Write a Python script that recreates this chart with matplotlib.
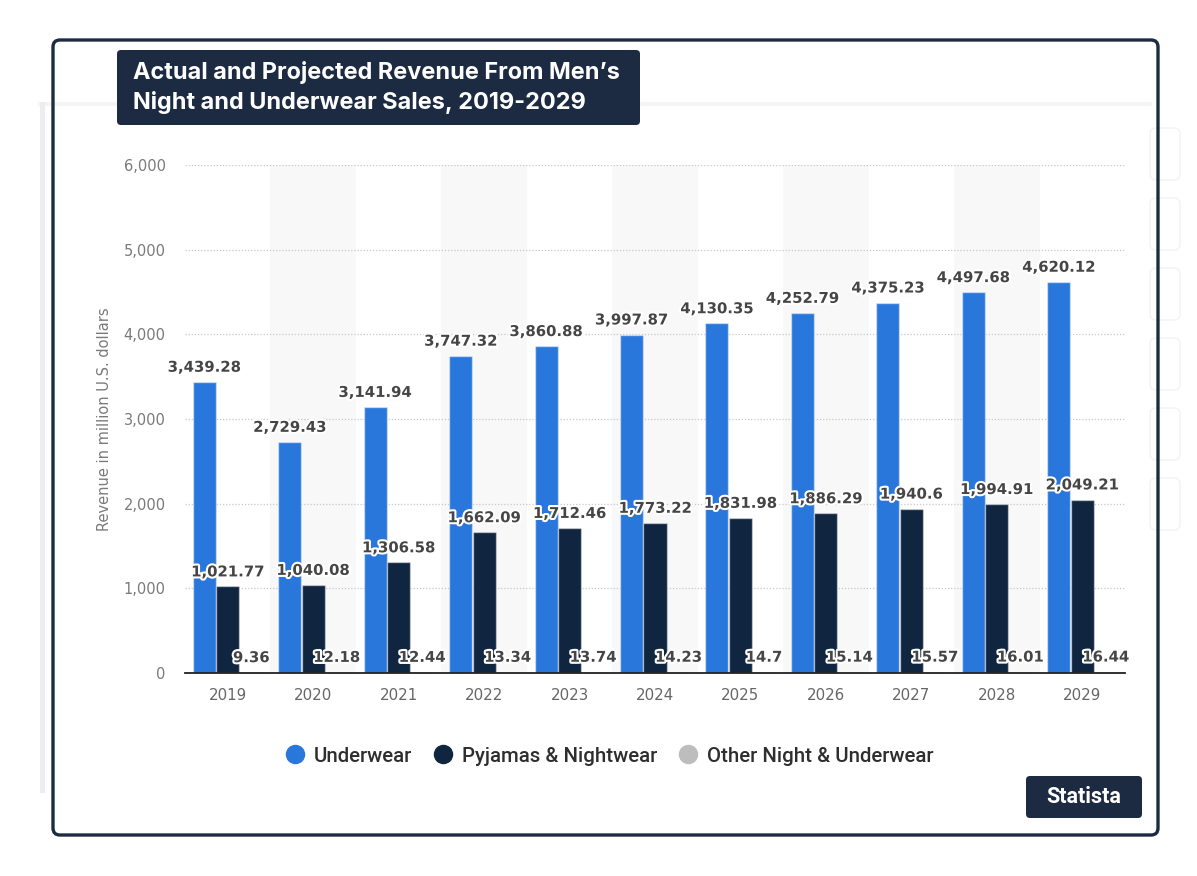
import matplotlib
matplotlib.use('Agg')
import matplotlib.pyplot as plt
import matplotlib.patheffects as pe
from matplotlib.patches import FancyBboxPatch
from matplotlib.lines import Line2D
import numpy as np

# ---------------- data ----------------
years = ['2019', '2020', '2021', '2022', '2023', '2024', '2025', '2026', '2027', '2028', '2029']
underwear = [3439.28, 2729.43, 3141.94, 3747.32, 3860.88, 3997.87, 4130.35, 4252.79, 4375.23, 4497.68, 4620.12]
pyjamas = [1021.77, 1040.08, 1306.58, 1662.09, 1712.46, 1773.22, 1831.98, 1886.29, 1940.6, 1994.91, 2049.21]
other = [9.36, 12.18, 12.44, 13.34, 13.74, 14.23, 14.7, 15.14, 15.57, 16.01, 16.44]
series_names = ['Underwear', 'Pyjamas & Nightwear', 'Other Night & Underwear']
series_colors = ['#2a77dc', '#10253f', '#bdbdbd']
y_ticks = [0, 1000, 2000, 3000, 4000, 5000, 6000]
title_lines = ['Actual and Projected Revenue From Men\u2019s', 'Night and Underwear Sales, 2019-2029']
y_label = 'Revenue in million U.S. dollars'
badge_text = 'Statista'

W, H = 1197, 876
fig = plt.figure(figsize=(W / 100, H / 100), dpi=100)
fig.patch.set_facecolor('white')

def px(x):
    return x / W

def py(y):
    return 1 - y / H

NAVY = '#1c2b42'

# faint background card: top and left edges
fig.add_artist(Line2D([40, 1150], [H - 104, H - 104], transform=None, color='#f4f4f6', linewidth=3.0, zorder=0))
fig.add_artist(Line2D([42, 42], [H - 104, H - 790], transform=None, color='#ececf1', linewidth=3.5, zorder=0))
# right side faint tabs
for top in [128, 198, 268, 338, 408, 478]:
    tab = FancyBboxPatch((1150, H - top - 52), 30, 52, boxstyle='round,pad=0,rounding_size=6',
                         transform=None, facecolor='white', edgecolor='#f3f3f6', linewidth=1.0, zorder=0.5)
    fig.add_artist(tab)

# outer frame
frame = FancyBboxPatch((53, H - 835), 1105, 795, boxstyle='round,pad=0,rounding_size=7',
                       transform=None, facecolor='none', edgecolor=NAVY, linewidth=2.4, zorder=10)
fig.add_artist(frame)

# ---------------- axes ----------------
ax = fig.add_axes([px(185), 203 / H, 940 / W, 508 / H])
n = len(years)
x = np.arange(n)
ax.set_xlim(-0.5, n - 0.5)
ax.set_ylim(0, 6000)

for i in range(n):
    if i % 2 == 1:
        ax.axvspan(i - 0.5, i + 0.5, color='#f8f8f9', zorder=0, lw=0)

ax.set_yticks(y_ticks)
ax.set_yticklabels([f'{t:,}' for t in y_ticks])
ax.grid(axis='y', linestyle=(0, (1, 1.5)), color='#c8c8c8', linewidth=0.9, zorder=0.5)
ax.set_axisbelow(True)
for s in ['top', 'right', 'left']:
    ax.spines[s].set_visible(False)
ax.spines['bottom'].set_color('#222222')
ax.spines['bottom'].set_linewidth(1.3)
ax.spines['bottom'].set_zorder(5)

ax.set_xticks(x)
ax.set_xticklabels(years)
ax.tick_params(axis='y', length=0, pad=14, labelsize=10.5, labelcolor='#7a7a7a')
ax.tick_params(axis='x', length=0, pad=11, labelsize=10.8, labelcolor='#666666')
ax.set_ylabel(y_label, fontsize=10.5, color='#7a7a7a')
ax.yaxis.set_label_coords(-0.078, 0.5)

bw = 0.27
offsets = [-0.275, 0.0, 0.275]
all_series = [underwear, pyjamas, other]
for k, (vals, col) in enumerate(zip(all_series, series_colors)):
    ax.bar(x + offsets[k], vals, width=bw, color=col, edgecolor=(1, 1, 1, 0.45), linewidth=1.0, zorder=2)
    for xi, v in zip(x + offsets[k], vals):
        ax.annotate(f'{v:,}', (xi, v), xytext=(0, 10.5), textcoords='offset points',
                    ha='center', va='center', fontsize=10.7, fontweight='bold', color='#454545',
                    path_effects=[pe.withStroke(linewidth=3, foreground='white')], zorder=6)

# ---------------- legend ----------------
handles = [Line2D([0], [0], marker='o', linestyle='none', markersize=13,
                  markerfacecolor=c, markeredgecolor=c) for c in series_colors]
leg = fig.legend(handles, series_names, loc='center', bbox_to_anchor=(px(608), py(756)), ncol=3,
                 frameon=False, handletextpad=0.3, columnspacing=0.95, handlelength=1.2,
                 prop={'family': 'Roboto', 'weight': 'medium', 'size': 14.7})
for t in leg.get_texts():
    t.set_color('#2e2e2e')

# ---------------- title box ----------------
tbox = FancyBboxPatch((117, H - 125), 523, 75, boxstyle='round,pad=0,rounding_size=4',
                      transform=None, facecolor=NAVY, edgecolor='none', zorder=11)
fig.add_artist(tbox)
for j, line in enumerate(title_lines):
    fig.text(px(133), py(72 + 30 * j), line, ha='left', va='center', color='white',
             fontsize=16.9, fontweight='bold', family=['Inter', 'DejaVu Sans'], zorder=12)

# ---------------- badge ----------------
badge = FancyBboxPatch((1026, H - 818), 116, 42, boxstyle='round,pad=0,rounding_size=4',
                       transform=None, facecolor=NAVY, edgecolor='none', zorder=11)
fig.add_artist(badge)
fig.text(px(1084), py(797), badge_text, ha='center', va='center', color='white',
         fontsize=15.5, fontweight='bold', family=['Roboto', 'DejaVu Sans'], zorder=12)

fig.savefig('out.png', dpi=100, facecolor='white')
